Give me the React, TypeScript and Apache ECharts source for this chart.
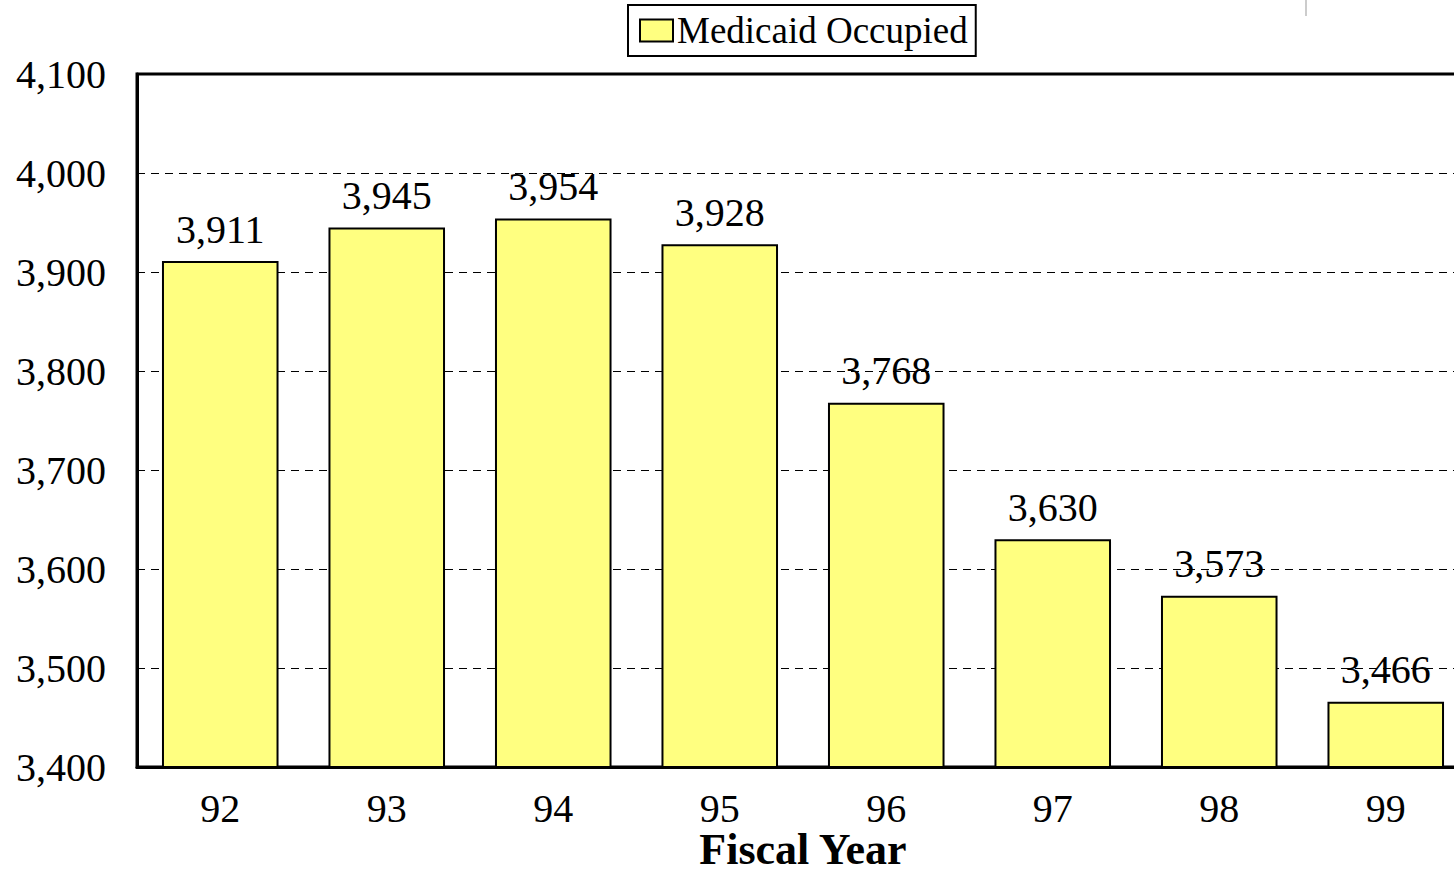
import React, { useEffect, useRef } from "react";
import * as echarts from "echarts";

const categories = ["92", "93", "94", "95", "96", "97", "98", "99"];
const medicaidOccupied = [3911, 3945, 3954, 3928, 3768, 3630, 3573, 3466];
const yMin = 3400;
const yMax = 4100;
const yInterval = 100;

const FONT = "'Liberation Serif', 'Times New Roman', serif";

export default function App() {
  const ref = useRef<HTMLDivElement>(null);
  useEffect(() => {
    document.body.style.margin = "0";
    const chart = echarts.init(ref.current!, undefined, { renderer: "svg" });
    chart.setOption({
      animation: false,
      backgroundColor: "#ffffff",
      textStyle: { fontFamily: FONT },
      legend: {
        top: 5,
        left: 628,
        data: ["Medicaid Occupied"],
        icon: "rect",
        borderColor: "#000",
        borderWidth: 2,
        padding: [7, 8, 7, 11],
        itemWidth: 33,
        itemHeight: 22,
        itemGap: 0,
        textStyle: { fontFamily: FONT, fontSize: 37, color: "#000", padding: [0, 0, 0, -1] },
        itemStyle: { borderColor: "#000", borderWidth: 2 },
      },
      grid: {
        left: 137,
        top: 74,
        width: 1332,
        height: 693,
        show: true,
        borderColor: "#000",
        borderWidth: 3,
        containLabel: false,
        outerBoundsMode: "none",
      },
      xAxis: {
        type: "category",
        data: categories,
        name: "Fiscal Year",
        nameLocation: "middle",
        nameMoveOverlap: false,
        nameGap: 60,
        nameTextStyle: {
          fontFamily: FONT,
          fontSize: 44,
          lineHeight: 44,
          fontWeight: "bold",
          color: "#000",
          verticalAlign: "top",
        },
        axisLine: { show: true, lineStyle: { color: "#000", width: 3 } },
        axisTick: { show: false },
        axisLabel: { fontFamily: FONT, fontSize: 40, color: "#000", margin: 21 },
      },
      yAxis: {
        type: "value",
        min: yMin,
        max: yMax,
        interval: yInterval,
        axisLine: { show: true, lineStyle: { color: "#000", width: 3 } },
        axisTick: { show: false },
        axisLabel: {
          fontFamily: FONT,
          fontSize: 40,
          color: "#000",
          margin: 31,
          formatter: (v: number) => v.toLocaleString("en-US"),
        },
        splitLine: { show: true, lineStyle: { color: "#000", width: 1, type: [8, 6] } },
      },
      series: [
        {
          name: "Medicaid Occupied",
          type: "bar",
          data: medicaidOccupied,
          barCategoryGap: "30%",
          itemStyle: { color: "#FFFF80", borderColor: "#000", borderWidth: 2 },
          label: {
            show: true,
            position: "top",
            distance: 12,
            fontFamily: FONT,
            fontSize: 40,
            color: "#000",
            formatter: (p: any) => Number(p.value).toLocaleString("en-US"),
          },
        },
      ],
      graphic: [
        {
          type: "line",
          shape: { x1: 1306, y1: 0, x2: 1306, y2: 16 },
          style: { stroke: "#bbbbbb", lineWidth: 1.5 },
        },
      ],
    });
    return () => chart.dispose();
  }, []);
  return <div ref={ref} style={{ position: "fixed", left: 0, top: 0, width: 1454, height: 874, overflow: "hidden" }} />;
}
